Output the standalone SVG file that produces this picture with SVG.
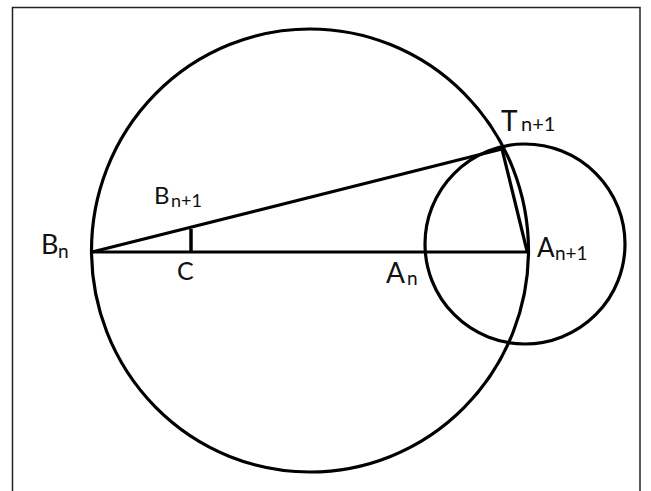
<svg xmlns="http://www.w3.org/2000/svg" width="651" height="491" viewBox="0 0 651 491">
<style>
.c{fill:none;stroke:#000;stroke-width:3.2}
.l{fill:none;stroke:#000;stroke-width:3.2;stroke-linecap:round}
.t{font-family:Lato,"Open Sans","Liberation Sans",sans-serif;fill:#111}
</style>
<rect x="0" y="0" width="651" height="491" fill="#fff"/>
<rect x="12.5" y="7.5" width="627.5" height="500" fill="none" stroke="#222" stroke-width="1.5"/>
<g id="circle-big"><ellipse class="c" cx="310" cy="250.5" rx="218.5" ry="221.5"/></g>
<g id="circle-small"><circle class="c" cx="525" cy="244" r="100"/></g>
<g id="connectors">
<line class="l" x1="92" y1="252" x2="527" y2="252"/>
<line class="l" x1="92" y1="252" x2="502" y2="149"/>
<line class="l" x1="502" y1="149" x2="527" y2="251"/>
<line x1="191" y1="229" x2="191" y2="252" stroke="#000" stroke-width="3.5"/>
</g>
<g id="label-Bn"><text class="t" font-size="27" x="41" y="254">B</text><text class="t" font-size="19" x="58" y="258">n</text></g>
<g id="label-Bn1"><text class="t" font-size="24" x="154" y="204">B</text><text class="t" font-size="18" x="171" y="207">n+1</text></g>
<g id="label-C"><text class="t" font-size="25" x="177" y="280">C</text></g>
<g id="label-An"><text class="t" font-size="28" x="386" y="283">A</text><text class="t" font-size="19" x="407" y="285">n</text></g>
<g id="label-An1"><text class="t" font-size="26" x="537" y="257">A</text><text class="t" font-size="19" x="555" y="260">n+1</text></g>
<g id="label-Tn1"><text class="t" font-size="28" x="501" y="131">T</text><text class="t" font-size="20" x="521" y="131">n+1</text></g>
</svg>
